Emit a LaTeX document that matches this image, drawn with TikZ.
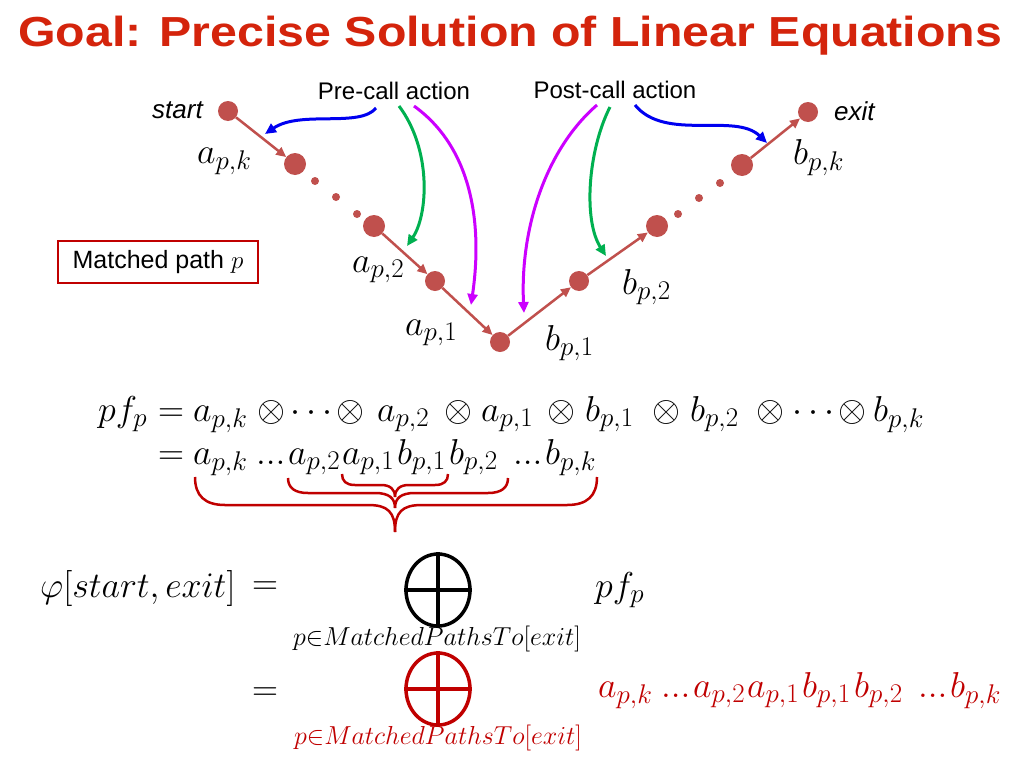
\RequirePackage{fix-cm}
\documentclass[tikz,border=0pt]{standalone}
\usepackage{fontspec}
\setmainfont{Liberation Sans}
\usetikzlibrary{arrows.meta,shapes.geometric,calc}
\DeclareMathSizes{36}{36}{27}{20}
\DeclareMathSizes{26}{26}{19}{14}
\DeclareMathSizes{25}{25}{18}{13}
\definecolor{nodecol}{RGB}{192,80,77}
\definecolor{dred}{RGB}{192,0,0}
\definecolor{titlered}{RGB}{212,36,12}
\definecolor{cblue}{RGB}{0,0,240}
\definecolor{cgreen}{RGB}{0,176,80}
\definecolor{cmag}{RGB}{204,0,255}
\newcommand{\tdots}{{.}{.}{.}}
\begin{document}
\begin{tikzpicture}[x=1pt,y=-1pt,
  bigdot/.style={circle,fill=nodecol,inner sep=0,minimum size=22},
  meddot/.style={circle,fill=nodecol,inner sep=0,minimum size=20},
  tinydot/.style={circle,fill=nodecol,inner sep=0,minimum size=8},
  edge/.style={draw=nodecol,line width=2.5,-{Triangle[length=10,width=9]}},
  callarrow/.style={line width=3,-{Triangle[length=11,width=10]}},
  eqA/.style={inner sep=0,anchor=base west,font=\fontsize{36}{42}\selectfont},
  subA/.style={inner sep=0,anchor=base,font=\fontsize{26}{30}\selectfont},
  lbl/.style={inner sep=0,font=\fontsize{24}{28}\selectfont},
  bigop/.style={ellipse,draw,line width=3.5,inner sep=0,minimum width=64,minimum height=72}]
\useasboundingbox[fill=white] (0,0) rectangle (1024,768);

% title
\node[inner sep=0,anchor=west,xscale=1.15,text=titlered,font=\fontsize{42}{48}\selectfont\bfseries] (title) at (18,36) {Goal: Precise Solution of Linear Equations};

% path nodes
\node[meddot] (start) at (228,111) {};
\node[bigdot] (ak) at (295,164) {};
\node[tinydot] (d1) at (315,181) {};
\node[tinydot] (d2) at (336,197) {};
\node[tinydot] (d3) at (357,214) {};
\node[bigdot] (a2) at (374,226) {};
\node[meddot] (a1) at (435,281) {};
\node[meddot] (bot) at (500,342) {};
\node[meddot] (b1) at (579,281) {};
\node[bigdot] (b2) at (657,226) {};
\node[tinydot] (e1) at (678,214) {};
\node[tinydot] (e2) at (699,198) {};
\node[tinydot] (e3) at (720,183) {};
\node[bigdot] (bk) at (742,165) {};
\node[meddot] (exit) at (808,112) {};

\draw[edge] (start) -- (ak);
\draw[edge] (a2) -- (a1);
\draw[edge] (a1) -- (bot);
\draw[edge] (bot) -- (b1);
\draw[edge] (b1) -- (b2);
\draw[edge] (bk) -- (exit);

% labels on path
\node[lbl,anchor=east,font=\fontsize{26}{30}\selectfont\itshape] (lstart) at (203,110) {start};
\node[lbl,anchor=west,font=\fontsize{26}{30}\selectfont\itshape] (lexit) at (834,111) {exit};
\node[eqA] (lak) at (197,163) {$a_{p,k}$};
\node[eqA] (la2) at (352,272) {$a_{p,2}$};
\node[eqA] (la1) at (405,335) {$a_{p,1}$};
\node[eqA] (lb1) at (545,350) {$b_{p,1}$};
\node[eqA] (lb2) at (622,294) {$b_{p,2}$};
\node[eqA] (lbk) at (793,164) {$b_{p,k}$};

\node[lbl] (pre) at (394,91) {Pre-call action};
\node[lbl] (post) at (615,90) {Post-call action};

\node[draw=dred,line width=2,inner sep=0,minimum width=200,minimum height=42,font=\fontsize{25}{29}\selectfont] (mp) at (158,262) {Matched path $p$};

% call arrows
\coordinate (t1) at (265,134);
\coordinate (t2) at (407,246);
\coordinate (t3) at (471,305);
\coordinate (t4) at (524,313);
\coordinate (t5) at (606,256);
\coordinate (t6) at (767,143);
\draw[callarrow,color=cblue] ($(pre.south)+(-18,8)$) .. controls (360,128) and (300,110) .. (t1);
\draw[callarrow,color=cgreen] ($(pre.south)+(5,6)$) .. controls (432,150) and (428,215) .. (t2);
\draw[callarrow,color=cmag] ($(pre.south)+(20,6)$) .. controls (475,150) and (482,230) .. (t3);
\draw[callarrow,color=cmag] ($(post.south)+(-18,6)$) .. controls (545,150) and (520,230) .. (t4);
\draw[callarrow,color=cgreen] ($(post.south)+(-5,8)$) .. controls (588,150) and (583,220) .. (t5);
\draw[callarrow,color=cblue] ($(post.south)+(20,6)$) .. controls (665,142) and (735,112) .. (t6);

% equation line 1
\foreach \xx/\tm [count=\i] in {98/{pf_p},158/{=},193/{a_{p,k}},257/{\otimes},290/{\cdots},336/{\otimes},377/{a_{p,2}},444/{\otimes},481/{a_{p,1}},547/{\otimes},585/{b_{p,1}},652/{\otimes},690/{b_{p,2}},756/{\otimes},792/{\cdots},838/{\otimes},873/{b_{p,k}}}
  \node[eqA] (la-\i) at (\xx,421) {$\tm$};

% equation line 2
\foreach \xx/\tm [count=\i] in {158/{=},193/{a_{p,k}},256/{\tdots},288/{a_{p,2}},342/{a_{p,1}},397/{b_{p,1}},449/{b_{p,2}},513/{\tdots},545/{b_{p,k}}}
  \node[eqA] (lb-\i) at (\xx,464) {$\tm$};

% braces
\begin{scope}[draw=dred,line width=2.5]
\draw (195,477) .. controls (195,496) and (205,505) .. (225,505) -- (368,505) .. controls (388,505) and (395,512) .. (395,532);
\draw (597,477) .. controls (597,496) and (587,505) .. (567,505) -- (422,505) .. controls (402,505) and (395,512) .. (395,532);
\draw (288,478) .. controls (288,488) and (295,493) .. (308,493) -- (375,493) .. controls (389,493) and (395,498) .. (395,508);
\draw (508,478) .. controls (508,488) and (501,493) .. (488,493) -- (415,493) .. controls (401,493) and (395,498) .. (395,508);
\draw (342,474) .. controls (342,481) and (346,485) .. (355,485) -- (381,485) .. controls (390,485) and (395,489) .. (395,497);
\draw (448,474) .. controls (448,481) and (444,485) .. (435,485) -- (409,485) .. controls (400,485) and (395,489) .. (395,497);
\end{scope}

% bottom formulas
\node[eqA] (phi) at (40,597) {$\varphi[start, exit]$};
\node[eqA] (eq3) at (252,594) {$=$};
\node[bigop] (sum1) at (438,590) {};
\draw[line width=3.5] (sum1.north) -- (sum1.south) (sum1.west) -- (sum1.east);
\node[subA] (sub1) at (437,645) {$p{\in}MatchedPathsTo[exit]$};
\node[eqA] (pf) at (595,597) {$pf_p$};

\node[eqA] (eq4) at (252,700) {$=$};
\node[bigop,draw=dred] (sum2) at (438,689) {};
\draw[line width=3.5,draw=dred] (sum2.north) -- (sum2.south) (sum2.west) -- (sum2.east);
\node[subA,text=dred] (sub2) at (438,744) {$p{\in}MatchedPathsTo[exit]$};
\foreach \xx/\tm [count=\i] in {598/{a_{p,k}},661/{\tdots},693/{a_{p,2}},747/{a_{p,1}},802/{b_{p,1}},854/{b_{p,2}},918/{\tdots},950/{b_{p,k}}}
  \node[eqA,text=dred] (lc-\i) at (\xx,697) {$\tm$};
\end{tikzpicture}
\end{document}
